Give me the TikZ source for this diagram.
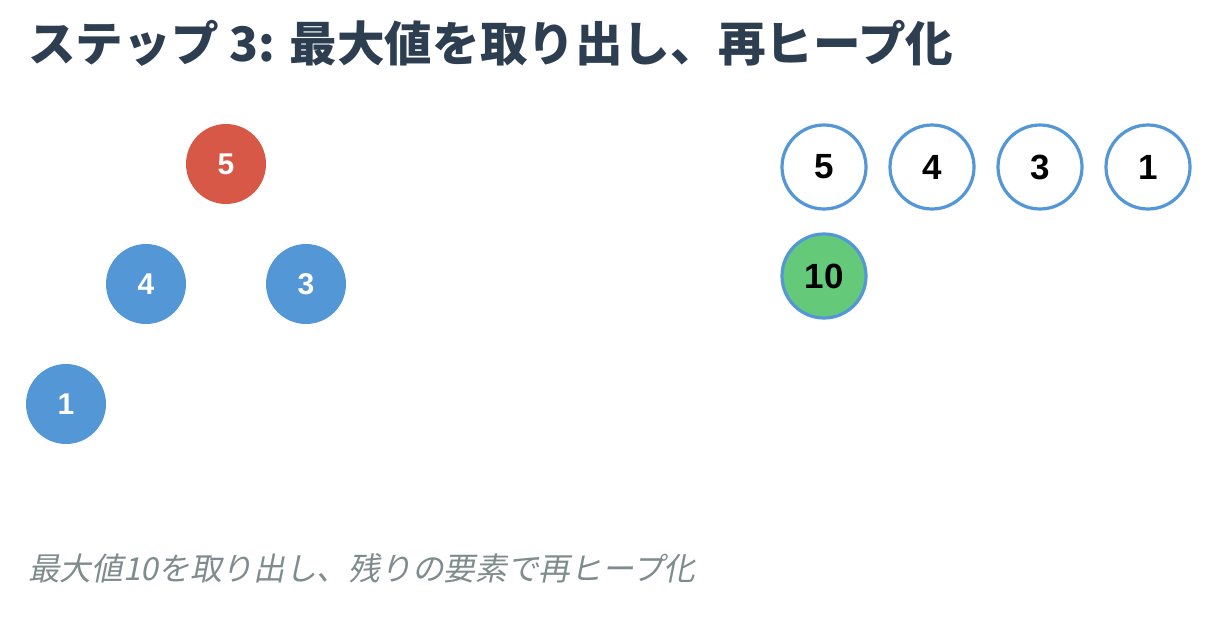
\documentclass[tikz,border=0pt]{standalone}
\usepackage{fontspec}
\setmainfont{Liberation Sans}
\newfontfamily\jp{Noto Sans CJK JP}
\newfontfamily\jpit{Noto Sans CJK JP}[FakeSlant=0.2]
\definecolor{titlec}{HTML}{2C3E50}
\definecolor{capc}{HTML}{7F8C8D}
\definecolor{redn}{HTML}{D85848}
\definecolor{bluen}{HTML}{5497D6}
\definecolor{greenn}{HTML}{65C97A}
\tikzset{
  treenode/.style={circle, minimum size=80pt, inner sep=0pt, text=white,
     font=\fontsize{30}{30}\selectfont\bfseries},
  arrnode/.style={circle, minimum size=84pt, inner sep=0pt, draw=bluen, line width=3.2pt,
     fill=white, text=black, font=\fontsize{35}{35}\selectfont\bfseries},
}
\begin{document}
\begin{tikzpicture}[x=1pt,y=-1pt]
\useasboundingbox (0,0) rectangle (1230,634);
\fill[white] (0,0) rectangle (1230,634);
\node[anchor=base west, inner sep=0pt, text=titlec, font=\jp\bfseries\fontsize{47.6}{47.6}\selectfont] (title) at (28,61) {ステップ 3: 最大値を取り出し、再ヒープ化};
% heap tree
\node[treenode, fill=redn] (t5) at (226,164) {5};
\node[treenode, fill=bluen] (t4) at (146,284) {4};
\node[treenode, fill=bluen] (t3) at (306,284) {3};
\node[treenode, fill=bluen] (t1) at (66,404) {1};
% array
\node[arrnode] (a5) at (824,167) {5};
\node[arrnode] (a4) at (932,167) {4};
\node[arrnode] (a3) at (1040,167) {3};
\node[arrnode] (a1) at (1148,167) {1};
\node[arrnode, fill=greenn] (a10) at (824,276) {10};
% caption
\node[anchor=base west, inner sep=0pt, text=capc, font=\jpit\fontsize{31.7}{31.7}\selectfont] (cap) at (28,580) {最大値10を取り出し、残りの要素で再ヒープ化};
\end{tikzpicture}
\end{document}
